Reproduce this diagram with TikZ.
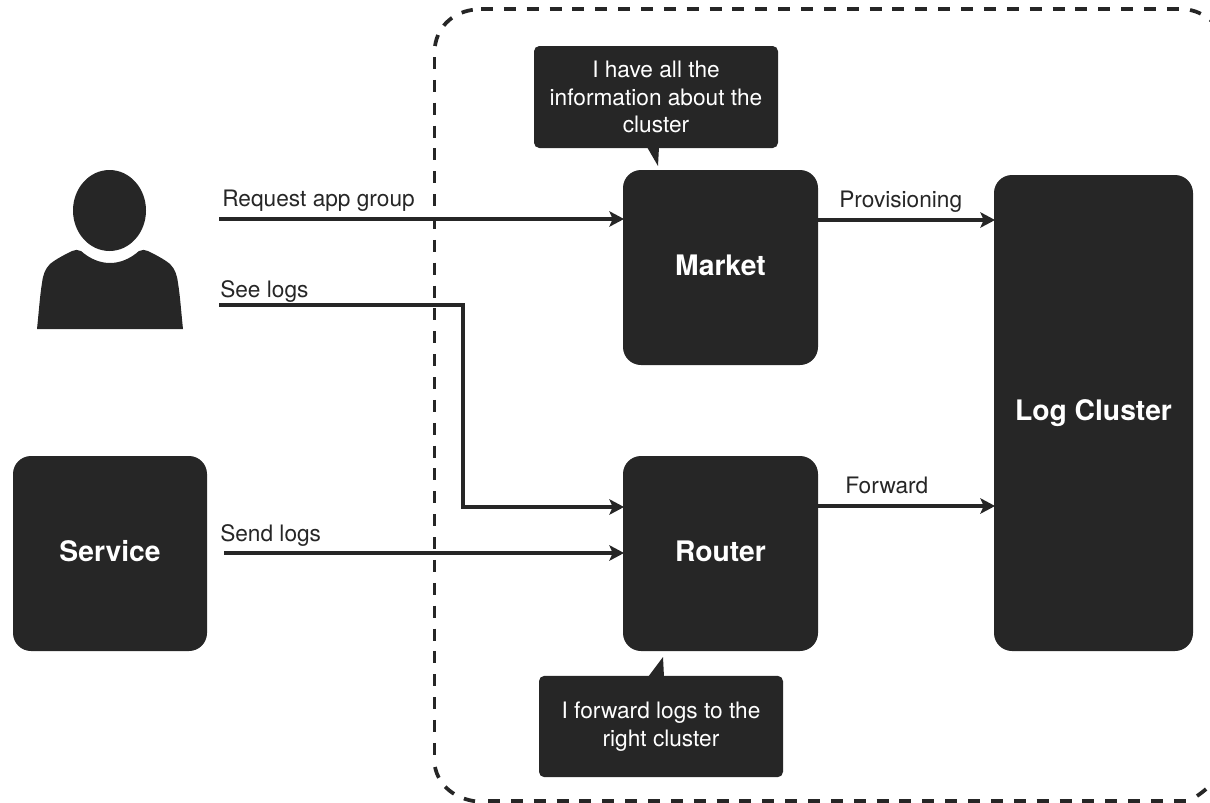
\documentclass[tikz,border=0pt]{standalone}
\usepackage{fontspec}
\setmainfont{TeX Gyre Heros}
\usetikzlibrary{arrows.meta}
\definecolor{ink}{HTML}{262626}
\tikzset{
  px/.style={x=0.75pt,y=-0.75pt},
  block/.style={fill=ink,draw=none,rounded corners=13.5pt,text=white,align=center,inner sep=0pt,text height=15pt,text depth=3.75pt,font=\fontsize{21.2pt}{25pt}\selectfont\bfseries},
  callout/.style={fill=ink,draw=none,rounded corners=4pt,text=white,align=center,inner sep=0pt,font=\fontsize{17pt}{20.6pt}\selectfont},
  conn/.style={draw=ink,line width=2.3pt,-{Stealth[length=11pt,width=11.5pt,inset=2.5pt]},shorten >=-1pt},
  lab/.style={text=ink,anchor=base west,inner sep=0pt,font=\fontsize{17pt}{20pt}\selectfont},
  border/.style={draw=ink,line width=2.8pt,dash pattern=on 9pt off 8.145pt},
  bordercorner/.style={draw=ink,line width=2.8pt,dash pattern=on 8.6pt off 8.2pt},
}
\begin{document}
\begin{tikzpicture}[px]
\useasboundingbox (0,0) rectangle (1210,803);
\clip (0,0) rectangle (1210,803);
% dashed frame: straight sides
\draw[border] (434.6,57) -- (434.6,756);
\draw[border] (481,9.3) -- (1180,9.3);
\draw[border] (488,801) -- (1187,801);
% dashed frame: corners
\draw[bordercorner] (435,46) .. controls (438,25) and (455,11) .. (476,9.5);
\draw[bordercorner] (435,767) .. controls (439,786) and (455,799) .. (477,801.5);
\draw[bordercorner] (1190,10) .. controls (1205,13) and (1220,25) .. (1230,45);
\draw[bordercorner] (1197,796) .. controls (1210,787) and (1222,775) .. (1230,760);
% person
\fill[ink] (109.5,210.5) ellipse [x radius=36.5,y radius=40.5];
\fill[ink] (37,329) .. controls (39,310) and (40,295) .. (42,283)
  .. controls (43,275) and (45,269) .. (50,264)
  .. controls (56,259) and (66,254) .. (72,251)
  .. controls (75,249.5) and (78,249.5) .. (81,251)
  .. controls (90,259) and (100,263) .. (110,263)
  .. controls (120,263) and (130,259) .. (139,251)
  .. controls (142,249.5) and (145,249.5) .. (148,251)
  .. controls (154,254) and (164,259) .. (170,264)
  .. controls (175,269) and (177,275) .. (178,283)
  .. controls (180,295) and (181,310) .. (183,329) -- cycle;
% blocks
\node[block,minimum width=146.25pt,minimum height=146.25pt] (market) at (720.5,267.5) {Market};
\node[block,minimum width=146.25pt,minimum height=146.25pt] (router) at (720.5,553.5) {Router};
\node[block,minimum width=145.5pt,minimum height=146.25pt] (service) at (110,553.5) {Service};
\node[block,minimum width=149.25pt,minimum height=357pt] (cluster) at (1093.5,413) {Log Cluster};
% callouts
\fill[ink] (647,147) -- (658,166) -- (659,147) -- cycle;
\node[callout,minimum width=183pt,minimum height=76.5pt] (c1) at (656,97) {I have all the\\information about the\\cluster};
\fill[ink] (648,677) -- (663,657) -- (664,677) -- cycle;
\node[callout,minimum width=183pt,minimum height=76pt] (c2) at (661,726.5) {I forward logs to the\\right cluster};
% connectors
\coordinate (reqs) at (219,219);
\coordinate (logs) at (219,305);
\coordinate (bend) at (463,507);
\coordinate (sends) at (224,553);
\coordinate (prov) at (840,220);
\coordinate (fwd) at (840,506);
\draw[conn] (reqs) -- (reqs -| market.west);
\draw[conn] (logs) -- (logs -| bend) -- (bend) -- (bend -| router.west);
\draw[conn] (sends) -- (sends -| router.west);
\draw[conn] (prov -| market.east) -- (prov -| cluster.west);
\draw[conn] (fwd -| router.east) -- (fwd -| cluster.west);
% labels
\node[lab] (l1) at (222,206.5) {Request app group};
\node[lab] (l2) at (220,297) {See logs};
\node[lab] (l3) at (220,541) {Send logs};
\node[lab] (l4) at (839,207) {Provisioning};
\node[lab] (l5) at (845,493) {Forward};
\end{tikzpicture}
\end{document}
